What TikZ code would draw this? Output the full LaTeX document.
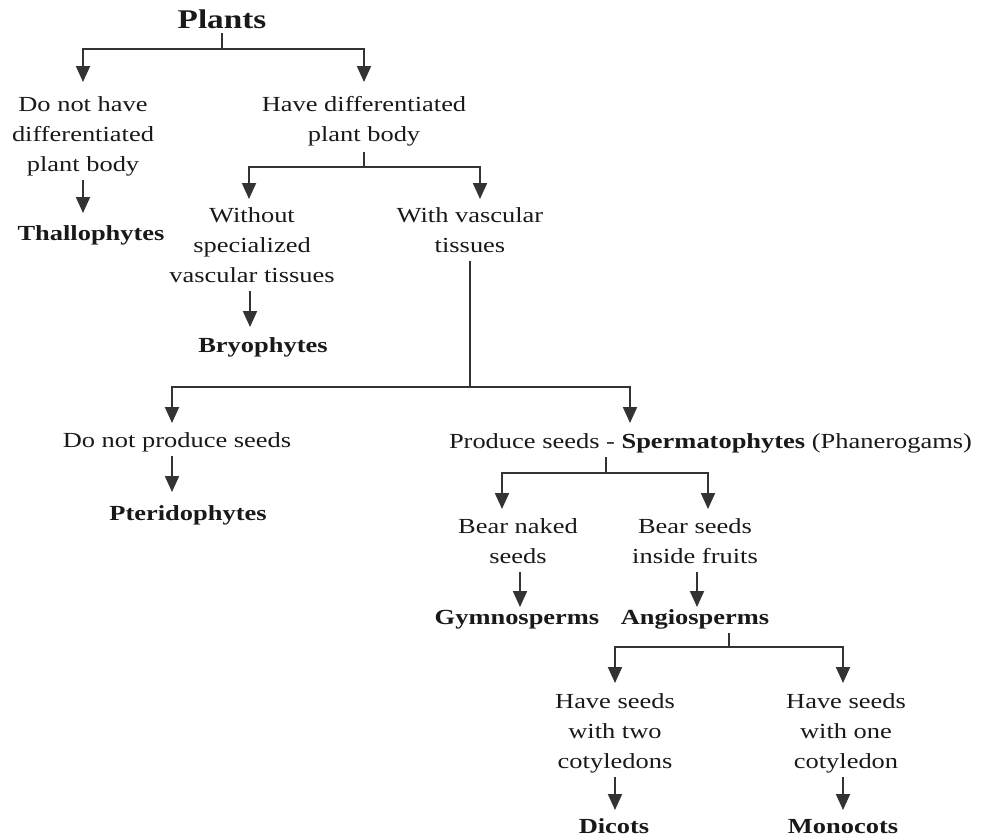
\documentclass[tikz,border=0pt]{standalone}
\usepackage{fontspec}
\setmainfont[FakeStretch=1.23]{Liberation Serif}
\usetikzlibrary{arrows.meta}
\begin{document}
\begin{tikzpicture}[x=1pt,y=-1pt,
  txt/.style={align=center,inner sep=0pt,outer sep=0pt,font=\fontsize{21.5}{30}\selectfont,text=black!90},
  nm/.style={txt,font=\fontsize{21.5}{30}\selectfont\bfseries},
  conn/.style={line width=2pt,draw=black!80},
  arr/.style={conn,-{Triangle[width=14pt,length=16pt]}}]
\useasboundingbox (0,0) rectangle (982,839);

% nodes
\node[nm,font=\fontsize{27}{32}\selectfont\bfseries,anchor=base] (plants) at (222,28.5) {Plants};
\node[txt] (left1) at (83,135) {\strut Do not have\\\strut differentiated\\\strut plant body};
\node[txt] (right1) at (364,120) {\strut Have differentiated\\\strut plant body};
\node[nm,anchor=base] (thallo) at (91,240) {\strut Thallophytes};
\node[txt] (without) at (252,246) {\strut Without\\\strut specialized\\\strut vascular tissues};
\node[txt] (with) at (470,231) {\strut With vascular\\\strut tissues};
\node[nm,anchor=base] (bryo) at (263,352) {\strut Bryophytes};
\node[txt,anchor=base] (dnps) at (177,447) {\strut Do not produce seeds};
\node[nm,anchor=base] (pterido) at (188,520) {\strut Pteridophytes};
\node[txt,anchor=base west] (produce) at (449,448) {\strut Produce seeds - \textbf{Spermatophytes} (Phanerogams)};
\node[txt] (bnaked) at (518,542) {\strut Bear naked\\\strut seeds};
\node[txt] (binside) at (695,542) {\strut Bear seeds\\\strut inside fruits};
\node[nm,anchor=base] (gymno) at (517,624) {\strut Gymnosperms};
\node[nm,anchor=base] (angio) at (695,624) {\strut Angiosperms};
\node[txt] (two) at (615,732) {\strut Have seeds\\\strut with two\\\strut cotyledons};
\node[txt] (one) at (846,732) {\strut Have seeds\\\strut with one\\\strut cotyledon};
\node[nm,anchor=base] (dicots) at (614,833) {\strut Dicots};
\node[nm,anchor=base] (monocots) at (843,833) {\strut Monocots};

% junctions
\coordinate (j1) at (222,49);
\coordinate (j2) at (364,167);
\coordinate (j3) at (470,387);
\coordinate (j4) at (606,473);
\coordinate (j5) at (729,647);

% connectors
\draw[conn] ([yshift=-4pt]plants.south) -- (j1);
\draw[arr] (j1) -| ([yshift=8pt]left1.north);
\draw[arr] (j1) -| ([yshift=8pt]right1.north);
\draw[arr] (left1.south) -- ([yshift=6pt]thallo.north -| left1.south);

\draw[conn] ([yshift=-2pt]right1.south) -- (j2);
\draw[arr] (j2) -| ([xshift=-3pt,yshift=2pt]without.north);
\draw[arr] (j2) -| ([xshift=10pt,yshift=2pt]with.north);
\draw[arr] ([xshift=-2pt]without.south) -- ([xshift=-13pt,yshift=4pt]bryo.north);

\draw[conn] (with.south) -- (j3);
\draw[arr] (j3) -| ([xshift=-5pt,yshift=3pt]dnps.north);
\draw[arr] (j3) -| ([xshift=181pt,yshift=4pt]produce.north west);
\draw[arr] ([xshift=-5pt]dnps.south) -- ([xshift=-16pt,yshift=7pt]pterido.north);

\draw[conn] ([xshift=157pt]produce.south west) -- (j4);
\draw[arr] (j4) -| ([xshift=-16pt,yshift=3pt]bnaked.north);
\draw[arr] (j4) -| ([xshift=13pt,yshift=3pt]binside.north);
\draw[arr] ([xshift=2pt]bnaked.south) -- ([xshift=3pt,yshift=-4pt]gymno.north);
\draw[arr] ([xshift=2pt]binside.south) -- ([xshift=2pt,yshift=-4pt]angio.north);

\draw[conn] ([xshift=34pt]angio.south) -- (j5);
\draw[arr] (j5) -| ([yshift=4pt]two.north);
\draw[arr] (j5) -| ([xshift=-3pt,yshift=4pt]one.north);
\draw[arr] (two.south) -- ([xshift=1pt,yshift=2pt]dicots.north);
\draw[arr] ([xshift=-3pt]one.south) -- ([yshift=2pt]monocots.north);
\end{tikzpicture}
\end{document}
